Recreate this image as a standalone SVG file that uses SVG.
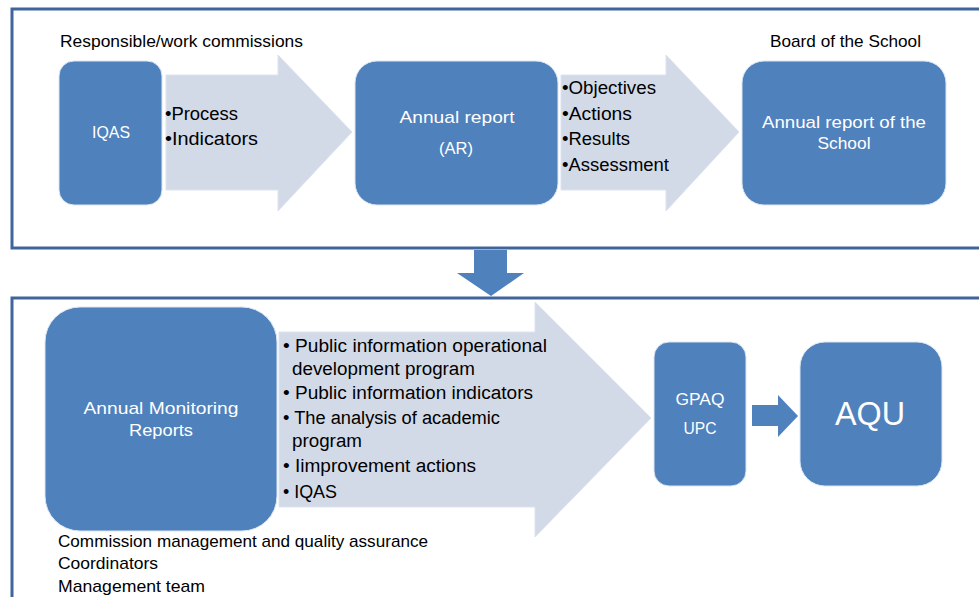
<svg xmlns="http://www.w3.org/2000/svg" width="979" height="597" viewBox="0 0 979 597">
<style>
.frame{fill:none;stroke:#40659A;stroke-width:3}
.box{fill:#4F81BD;stroke:#DCE6F2;stroke-width:1}
.band{fill:#D3DAE7;stroke:#DDE3EE;stroke-width:1}
text{font-family:"Liberation Sans",Arial,sans-serif}
.wt{font-size:17px;fill:#FFFFFF;text-anchor:middle}
.bt{font-size:17px;fill:#000000}
.li{font-size:18px;fill:#000000}
.big{font-size:34px}
</style>
<rect width="979" height="597" fill="#FFFFFF"/>
<g id="frame-top"><rect class="frame" x="12" y="9" width="980" height="239"/></g>
<g id="frame-bottom"><rect class="frame" x="12" y="298" width="980" height="320"/></g>
<g id="connectors">
<path class="band" d="M166,75 H278 V55 L352,132 L278,211 V190 H166 Z"/>
<path class="band" d="M561,75 H666 V55 L739,132 L666,211 V190 H561 Z"/>
<path d="M474,250 H507 V273 H524 L491,296 L457,273 H474 Z" fill="#4F81BD"/>
<path class="band" d="M279,332 H535 V302 L651,418 L535,537 V507 H279 Z"/>
<path d="M752,405 H778 V395 L798,416 L778,437 V426 H752 Z" fill="#4F81BD"/>
</g>
<g id="label-top-left"><text class="bt" x="60" y="47" textLength="243" lengthAdjust="spacingAndGlyphs">Responsible/work commissions</text></g>
<g id="label-top-right"><text class="bt" x="770" y="47" textLength="151" lengthAdjust="spacingAndGlyphs">Board of the School</text></g>
<g id="node-iqas"><rect class="box" x="59" y="61" width="103" height="144" rx="15"/><text class="wt" x="111" y="138" textLength="38" lengthAdjust="spacingAndGlyphs">IQAS</text></g>
<g id="list-1">
<text class="li" x="165" y="120" textLength="73" lengthAdjust="spacingAndGlyphs">•Process</text>
<text class="li" x="165" y="145" textLength="93" lengthAdjust="spacingAndGlyphs">•Indicators</text>
</g>
<g id="node-ar"><rect class="box" x="355" y="61" width="203" height="144" rx="22"/><text class="wt" x="457" y="123" textLength="115" lengthAdjust="spacingAndGlyphs">Annual report</text><text class="wt" x="456" y="154" textLength="34" lengthAdjust="spacingAndGlyphs">(AR)</text></g>
<g id="list-2">
<text class="li" x="562" y="94" textLength="94" lengthAdjust="spacingAndGlyphs">•Objectives</text>
<text class="li" x="562" y="120" textLength="70" lengthAdjust="spacingAndGlyphs">•Actions</text>
<text class="li" x="562" y="145" textLength="68" lengthAdjust="spacingAndGlyphs">•Results</text>
<text class="li" x="562" y="171" textLength="107" lengthAdjust="spacingAndGlyphs">•Assessment</text>
</g>
<g id="node-school"><rect class="box" x="742" y="61" width="204" height="144" rx="22"/><text class="wt" x="844" y="128" textLength="164" lengthAdjust="spacingAndGlyphs">Annual report of the</text><text class="wt" x="844" y="149" textLength="53" lengthAdjust="spacingAndGlyphs">School</text></g>
<g id="node-amr"><rect class="box" x="45" y="307" width="232" height="224" rx="35"/><text class="wt" x="161" y="414" textLength="155" lengthAdjust="spacingAndGlyphs">Annual Monitoring</text><text class="wt" x="161" y="436" textLength="64" lengthAdjust="spacingAndGlyphs">Reports</text></g>
<g id="list-3">
<text class="li" x="283" y="352" textLength="264" lengthAdjust="spacingAndGlyphs">• Public information operational</text>
<text class="li" x="292" y="375" textLength="183" lengthAdjust="spacingAndGlyphs">development program</text>
<text class="li" x="283" y="399" textLength="250" lengthAdjust="spacingAndGlyphs">• Public information indicators</text>
<text class="li" x="283" y="424" textLength="217" lengthAdjust="spacingAndGlyphs">• The analysis of academic</text>
<text class="li" x="292" y="447" textLength="70" lengthAdjust="spacingAndGlyphs">program</text>
<text class="li" x="283" y="472" textLength="193" lengthAdjust="spacingAndGlyphs">• Iimprovement actions</text>
<text class="li" x="283" y="498" textLength="54" lengthAdjust="spacingAndGlyphs">• IQAS</text>
</g>
<g id="node-gpaq"><rect class="box" x="654" y="342" width="92" height="144" rx="15"/><text class="wt" x="700" y="405" textLength="49" lengthAdjust="spacingAndGlyphs">GPAQ</text><text class="wt" x="700" y="434" textLength="33" lengthAdjust="spacingAndGlyphs">UPC</text></g>
<g id="node-aqu"><rect class="box" x="800" y="342" width="142" height="144" rx="25"/><text class="wt big" x="870" y="425" textLength="70" lengthAdjust="spacingAndGlyphs">AQU</text></g>
<g id="label-bottom">
<text class="bt" x="58" y="547" textLength="370" lengthAdjust="spacingAndGlyphs">Commission management and quality assurance</text>
<text class="bt" x="58" y="569" textLength="100" lengthAdjust="spacingAndGlyphs">Coordinators</text>
<text class="bt" x="58" y="592" textLength="147" lengthAdjust="spacingAndGlyphs">Management team</text>
</g>
</svg>
